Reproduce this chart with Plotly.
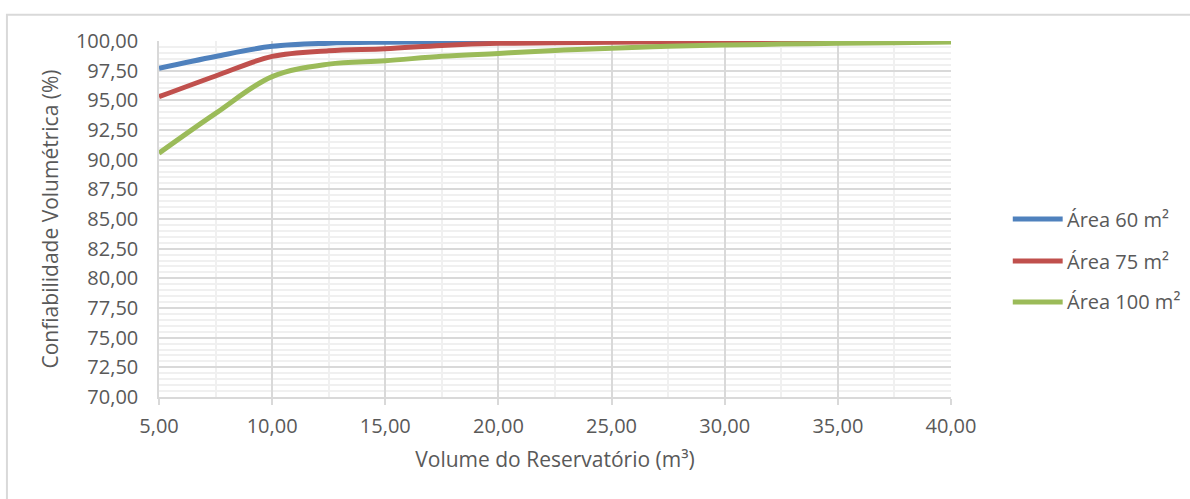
import plotly.graph_objects as go

# Reservoir volume (m³) and volumetric reliability (%) per roof area
volume = [5.0, 7.5, 10.0, 12.5, 15.0, 17.5, 20.0, 22.5, 25.0, 27.5, 30.0, 32.5, 35.0, 37.5, 40.0]
area_60 = [97.70, 98.70, 99.55, 99.82, 99.90, 99.94, 99.96, 99.97, 99.98, 99.98, 99.99, 99.99, 99.99, 100.00, 100.00]
area_75 = [95.30, 97.05, 98.70, 99.18, 99.35, 99.63, 99.80, 99.85, 99.90, 99.92, 99.95, 99.96, 99.97, 99.98, 100.00]
area_100 = [90.55, 93.90, 97.00, 98.05, 98.33, 98.72, 98.95, 99.20, 99.38, 99.55, 99.66, 99.74, 99.80, 99.86, 99.92]

series = [
    ("Área 60 m²", area_60, "#4F81BD"),
    ("Área 75 m²", area_75, "#C0504D"),
    ("Área 100 m²", area_100, "#9BBB59"),
]

FONT = "Open Sans"
TXT = "#595959"
MAJOR = "#d9d9d9"
MINOR = "#f0f0f0"
LINE_W = 5

fig = go.Figure()
for name, vals, color in series:
    fig.add_trace(go.Scatter(
        x=volume, y=vals, name=name, mode="lines",
        line=dict(color=color, width=LINE_W, shape="spline", smoothing=1.0),
        showlegend=False,
    ))

# Legend drawn to the right of the plot: a swatch line and a label per series
legend_rows = [0.50, 0.382, 0.267]
for (name, _, color), ly in zip(series, legend_rows):
    fig.add_shape(type="line", xref="paper", yref="paper",
                  x0=1.078, x1=1.141, y0=ly, y1=ly,
                  line=dict(color=color, width=LINE_W))
    fig.add_annotation(xref="paper", yref="paper", x=1.144, y=ly,
                       xanchor="left", yanchor="middle", showarrow=False,
                       text=name, font=dict(family=FONT, size=20, color=TXT))

fig.update_layout(
    width=1190, height=499,
    margin=dict(l=159, r=239, t=41, b=102),
    paper_bgcolor="white", plot_bgcolor="white",
    separators=",.",
    font=dict(family=FONT, size=20, color=TXT),
    xaxis=dict(
        range=[5, 40], tick0=5, dtick=5, tickformat=".2f",
        showgrid=True, gridcolor=MAJOR, gridwidth=1.5,
        minor=dict(dtick=2.5, showgrid=True, gridcolor=MINOR, gridwidth=1.5),
        showline=True, linecolor=MAJOR, linewidth=1.5,
        ticks="outside", ticklen=6, tickcolor=MAJOR, tickwidth=1.5,
        ticklabelstandoff=4,
        zeroline=False,
        title=dict(text="Volume do Reservatório (m³)", standoff=15,
                   font=dict(family=FONT, size=21, color=TXT)),
        tickfont=dict(family=FONT, size=20, color=TXT),
    ),
    yaxis=dict(
        range=[70, 100], tick0=70, dtick=2.5, tickformat=".2f",
        showgrid=True, gridcolor=MAJOR, gridwidth=1.5,
        minor=dict(dtick=0.5, showgrid=True, gridcolor=MINOR, gridwidth=1.5),
        showline=True, linecolor=MAJOR, linewidth=1.5,
        ticklabelstandoff=15,
        zeroline=False,
        title=dict(text="Confiabilidade Volumétrica (%)", standoff=12,
                   font=dict(family=FONT, size=21, color=TXT)),
        tickfont=dict(family=FONT, size=20, color=TXT),
    ),
)

# Chart frame
fig.add_shape(type="rect", xref="paper", yref="paper",
              x0=-0.192, x1=1.31, y0=-0.31, y1=1.0735,
              line=dict(color="#d9d9d9", width=2), layer="below")

fig.write_html("out.html")
